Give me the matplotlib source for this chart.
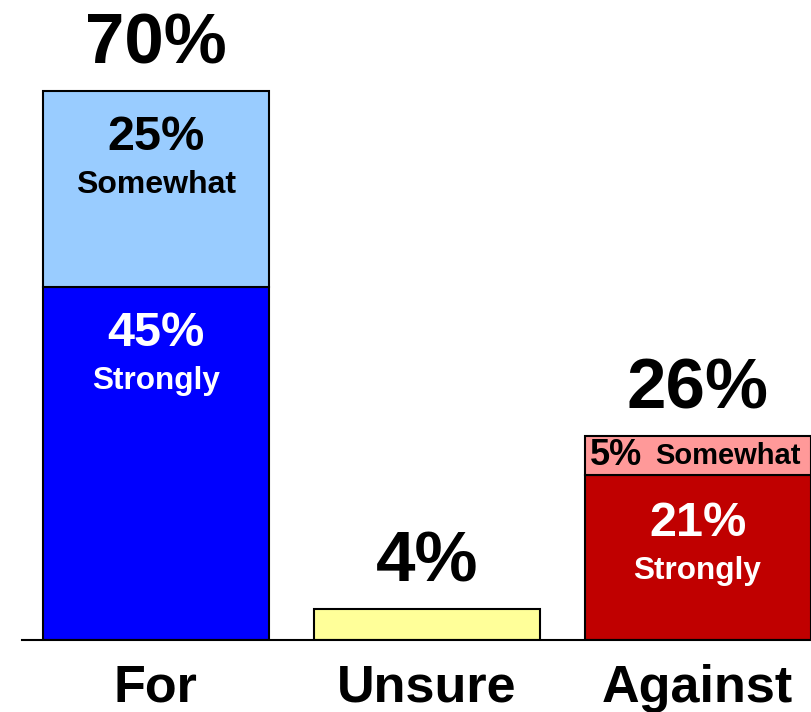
import matplotlib
matplotlib.use("Agg")
import matplotlib.pyplot as plt

plt.rcParams['font.family'] = ['Liberation Sans', 'DejaVu Sans']
plt.rcParams['font.weight'] = 'bold'

categories = ["For", "Unsure", "Against"]
strongly = [45, 4, 21]
somewhat = [25, 0, 5]
totals = [70, 4, 26]
strong_colors = ["#0000FF", "#FFFF99", "#C00000"]
some_colors = ["#99CCFF", "#FFFF99", "#FF9999"]

W, H, DPI = 812, 712, 100
fig = plt.figure(figsize=(W / DPI, H / DPI), dpi=DPI)
ax = fig.add_axes([22 / W, 72 / H, 790 / W, 640 / H])

x = list(range(len(categories)))
width = 0.834
ax.bar(x, strongly, width=width, color=strong_colors, edgecolor="black", linewidth=1.5, zorder=2)
for i in x:
    if somewhat[i] > 0:
        ax.bar(i, somewhat[i], bottom=strongly[i], width=width, color=some_colors[i],
               edgecolor="black", linewidth=1.5, zorder=2)

ax.set_xlim(-0.4945, 2.4225)
ax.set_ylim(0, 81.6)
for s in ["top", "right", "left"]:
    ax.spines[s].set_visible(False)
ax.spines["bottom"].set_linewidth(1.5)
ax.set_xticks([])
ax.set_yticks([])

# Total labels above bars
for i in x:
    ax.annotate(f"{totals[i]}%", (i, totals[i]), xytext=(0, 19.5), textcoords="offset points",
                ha="center", va="baseline", fontsize=51, fontweight="bold", color="black")

# Category labels
for i in x:
    ax.annotate(categories[i], (i, 0), xytext=(0, -44.6), textcoords="offset points",
                ha="center", va="baseline", fontsize=37.5, fontweight="bold", color="black")

# For bar: somewhat segment
ax.annotate(f"{somewhat[0]}%", (0, totals[0]), xytext=(0, -42.5), textcoords="offset points",
            ha="center", va="baseline", fontsize=35, fontweight="bold", color="black")
ax.annotate("Somewhat", (0, totals[0]), xytext=(0, -73.4), textcoords="offset points",
            ha="center", va="baseline", fontsize=23, fontweight="bold", color="black")
# For bar: strongly segment
ax.annotate(f"{strongly[0]}%", (0, strongly[0]), xytext=(0, -42.5), textcoords="offset points",
            ha="center", va="baseline", fontsize=35, fontweight="bold", color="white")
ax.annotate("Strongly", (0, strongly[0]), xytext=(0, -73.4), textcoords="offset points",
            ha="center", va="baseline", fontsize=22.7, fontweight="bold", color="white")

# Against bar: strongly segment
ax.annotate(f"{strongly[2]}%", (2, strongly[2]), xytext=(0, -43.5), textcoords="offset points",
            ha="center", va="baseline", fontsize=35, fontweight="bold", color="white")
ax.annotate("Strongly", (2, strongly[2]), xytext=(0, -74.4), textcoords="offset points",
            ha="center", va="baseline", fontsize=22.7, fontweight="bold", color="white")
# Against bar: somewhat segment (small)
mid = strongly[2] + somewhat[2] / 2
ax.annotate(f"{somewhat[2]}%", (2 - width / 2, mid), xytext=(3.6, 0), textcoords="offset points",
            ha="left", va="center", fontsize=26, fontweight="bold", color="black")
ax.annotate("Somewhat", (2 + width / 2, mid), xytext=(-7, 0), textcoords="offset points",
            ha="right", va="center", fontsize=21, fontweight="bold", color="black")

fig.savefig("out.png", dpi=DPI)
